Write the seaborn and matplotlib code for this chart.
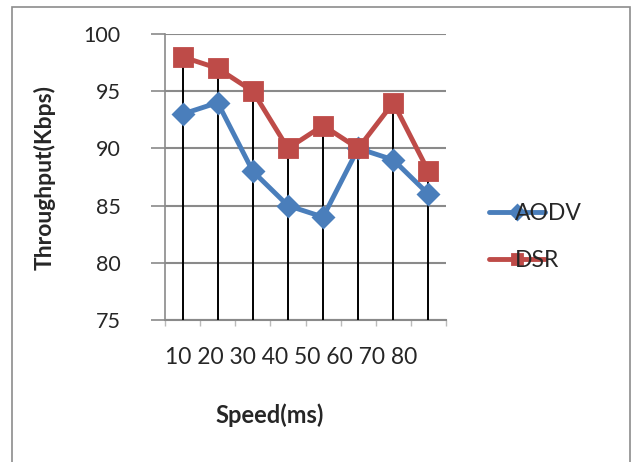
import matplotlib
matplotlib.use("Agg")
import matplotlib.pyplot as plt
import seaborn as sns
import pandas as pd
from matplotlib.patches import Rectangle

speeds = ["10", "20", "30", "40", "50", "60", "70", "80"]
aodv = [93, 94, 88, 85, 84, 90, 89, 86]
dsr = [98, 97, 95, 90, 92, 90, 94, 88]
series_names = ["AODV", "DSR"]
y_ticks = [75, 80, 85, 90, 95, 100]

df = pd.DataFrame({
    "speed": speeds * 2,
    "throughput": aodv + dsr,
    "protocol": [series_names[0]] * len(speeds) + [series_names[1]] * len(speeds),
})

sns.set_style("white")
plt.rcParams["font.family"] = ["Lato", "DejaVu Sans"]

fig = plt.figure(figsize=(6.37, 4.62), dpi=100)
fig.patches.append(Rectangle((12 / 637, -0.1), (630 - 12) / 637, 1.1 - 7 / 462,
                             transform=fig.transFigure, fill=False,
                             edgecolor="#8c8c8c", linewidth=1.2, zorder=0))
ax = fig.add_axes([165 / 637, 1 - 320 / 462, (446 - 165) / 637, (320 - 34) / 462])

# drop lines
ax.vlines(range(len(speeds)), y_ticks[0], [max(a, d) for a, d in zip(aodv, dsr)],
          colors="black", linewidth=1.4, zorder=3)

sns.pointplot(data=df, x="speed", y="throughput", hue="protocol", order=speeds,
              hue_order=series_names, palette=["#4a7ebb", "#be4b48"],
              markers=["D", "s"], linestyles=["-", "-"], errorbar=None,
              ax=ax, zorder=4)
for line in ax.lines:
    line.set_linewidth(3.5)
for line, ms in zip([l for l in ax.lines if len(l.get_xdata()) == len(speeds)], [10.5, 12.5]):
    line.set_markersize(ms)

ax.set_ylim(y_ticks[0], y_ticks[-1])
ax.set_xlim(-0.5, len(speeds) - 0.5)
ax.set_yticks(y_ticks)
ax.set_yticklabels([str(t) for t in y_ticks], fontsize=15.5)
ax.yaxis.grid(True, color="#8a8a8a", linewidth=1.5)
ax.set_axisbelow(True)
ax.tick_params(axis="y", length=10, width=1.2, color="#8a8a8a", pad=22, left=True)
ax.set_xticks([i - 0.5 for i in range(len(speeds) + 1)])
ax.set_xticklabels([])
ax.tick_params(axis="x", length=4, width=1, color="#bbbbbb", bottom=True)
for s in ["top", "right"]:
    ax.spines[s].set_visible(False)
ax.spines["left"].set_color("#8a8a8a")
ax.spines["left"].set_linewidth(1.2)
ax.spines["bottom"].set_color("#8a8a8a")
ax.spines["bottom"].set_linewidth(1.5)

ax.set_xlabel("")
ax.set_ylabel("")
fig.text(165 / 637, 1 - 357 / 462, " ".join(speeds), fontsize=16.5, ha="left", va="center")
fig.text(270 / 637, 1 - 415 / 462, "Speed(ms)", fontsize=17, fontweight="bold",
         ha="center", va="center")
fig.text(45 / 637, 1 - 177 / 462, "Throughput(Kbps)", fontsize=16.5, fontweight="bold",
         rotation=90, ha="center", va="center")

leg = ax.legend(loc="upper left", bbox_to_anchor=(468 / 637, 1 - 182 / 462),
                bbox_transform=fig.transFigure, frameon=False, fontsize=16.5,
                handlelength=2.45, handletextpad=-1.3, labelspacing=1.15)
for h in leg.legend_handles:
    h.set_linewidth(3.5)

fig.savefig("out.png", dpi=100)
